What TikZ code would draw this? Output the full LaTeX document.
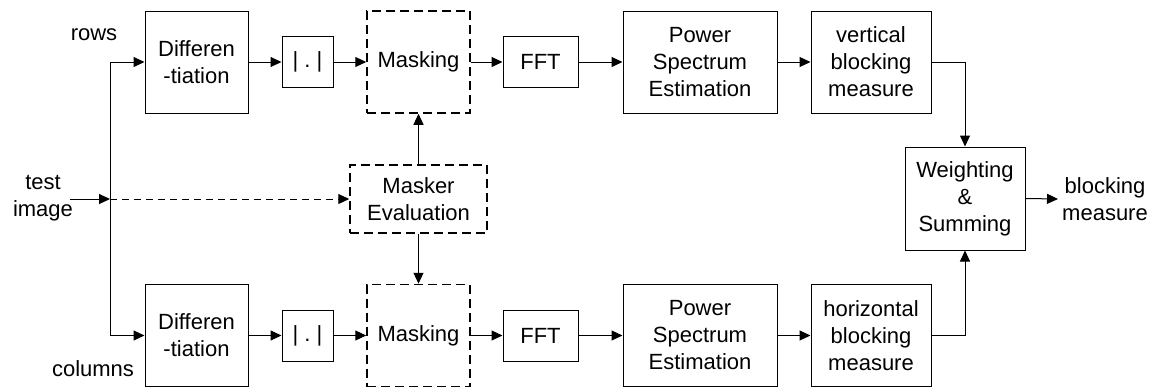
\documentclass[tikz,border=0pt]{standalone}
\usepackage{fontspec}
\setmainfont{Liberation Sans}
\usetikzlibrary{arrows.meta}
\begin{document}
\begin{tikzpicture}[x=1pt,y=-1pt,
  every node/.style={font=\fontsize{22}{27}\selectfont, align=center, inner sep=0pt},
  blk/.style={draw, line width=1pt, minimum width=#1},
  tall/.style={minimum height=102pt},
  small/.style={minimum height=51pt},
  dsh/.style={line width=1.5pt, dash pattern=on 9pt off 5pt},
  dline/.style={dash pattern=on 7pt off 5pt},
  conn/.style={line width=1pt, -{Triangle[length=11pt,width=10pt]}},
  lbl/.style={}
]
\useasboundingbox (0,0) rectangle (1156,391);
% top row
\node[blk=103pt, tall] (d1) at (196.5,62) {Differen\\-tiation};
\node[blk=51pt, small] (a1) at (307.5,62) {|\ .\ |};
\node[blk=103pt, tall, dsh] (m1) at (418.5,62) {Masking};
\node[blk=75pt, small] (f1) at (540.5,62) {FFT};
\node[blk=154pt, tall] (p1) at (700,62) {Power\\Spectrum\\Estimation};
\node[blk=120pt, tall] (v) at (871,62) {vertical\\blocking\\measure};
% bottom row
\node[blk=103pt, tall] (d2) at (196.5,335.5) {Differen\\-tiation};
\node[blk=51pt, small] (a2) at (307.5,335.5) {|\ .\ |};
\node[blk=103pt, tall, dsh] (m2) at (418.5,335.5) {Masking};
\node[blk=75pt, small] (f2) at (540.5,335.5) {FFT};
\node[blk=154pt, tall] (p2) at (700,335.5) {Power\\Spectrum\\Estimation};
\node[blk=120pt, tall] (h) at (871,335.5) {horizontal\\blocking\\measure};
% middle
\node[blk=137pt, minimum height=68pt, dsh] (me) at (418.5,199) {Masker\\Evaluation};
\node[blk=120pt, minimum height=103pt] (w) at (965,198.5) {Weighting\\\&\\Summing};
% labels
\node[lbl] (rows) at (94,35) {rows};
\node[lbl] (cols) at (93,369) {columns};
\node[lbl] (test) at (43,198) {test\\image};
\node[lbl] (out) at (1105,199) {blocking\\measure};
\coordinate (in) at (70,199);
\coordinate (split) at (110,199);
% connectors
\draw[conn] (in) -- (split);
\draw[conn] (split) |- (d1.west);
\draw[conn] (split) |- (d2.west);
\draw[conn, dline] (split) -- (me.west);
\draw[conn] (me.north) -- (m1.south);
\draw[conn] (me.south) -- (m2.north);
\draw[conn] (d1.east) -- (a1.west);
\draw[conn] (a1.east) -- (m1.west);
\draw[conn] (m1.east) -- (f1.west);
\draw[conn] (f1.east) -- (p1.west);
\draw[conn] (p1.east) -- (v.west);
\draw[conn] (d2.east) -- (a2.west);
\draw[conn] (a2.east) -- (m2.west);
\draw[conn] (m2.east) -- (f2.west);
\draw[conn] (f2.east) -- (p2.west);
\draw[conn] (p2.east) -- (h.west);
\draw[conn] (v.east) -| (w.north);
\draw[conn] (h.east) -| (w.south);
\draw[conn] (w.east) -- (1058,199);
\end{tikzpicture}
\end{document}
